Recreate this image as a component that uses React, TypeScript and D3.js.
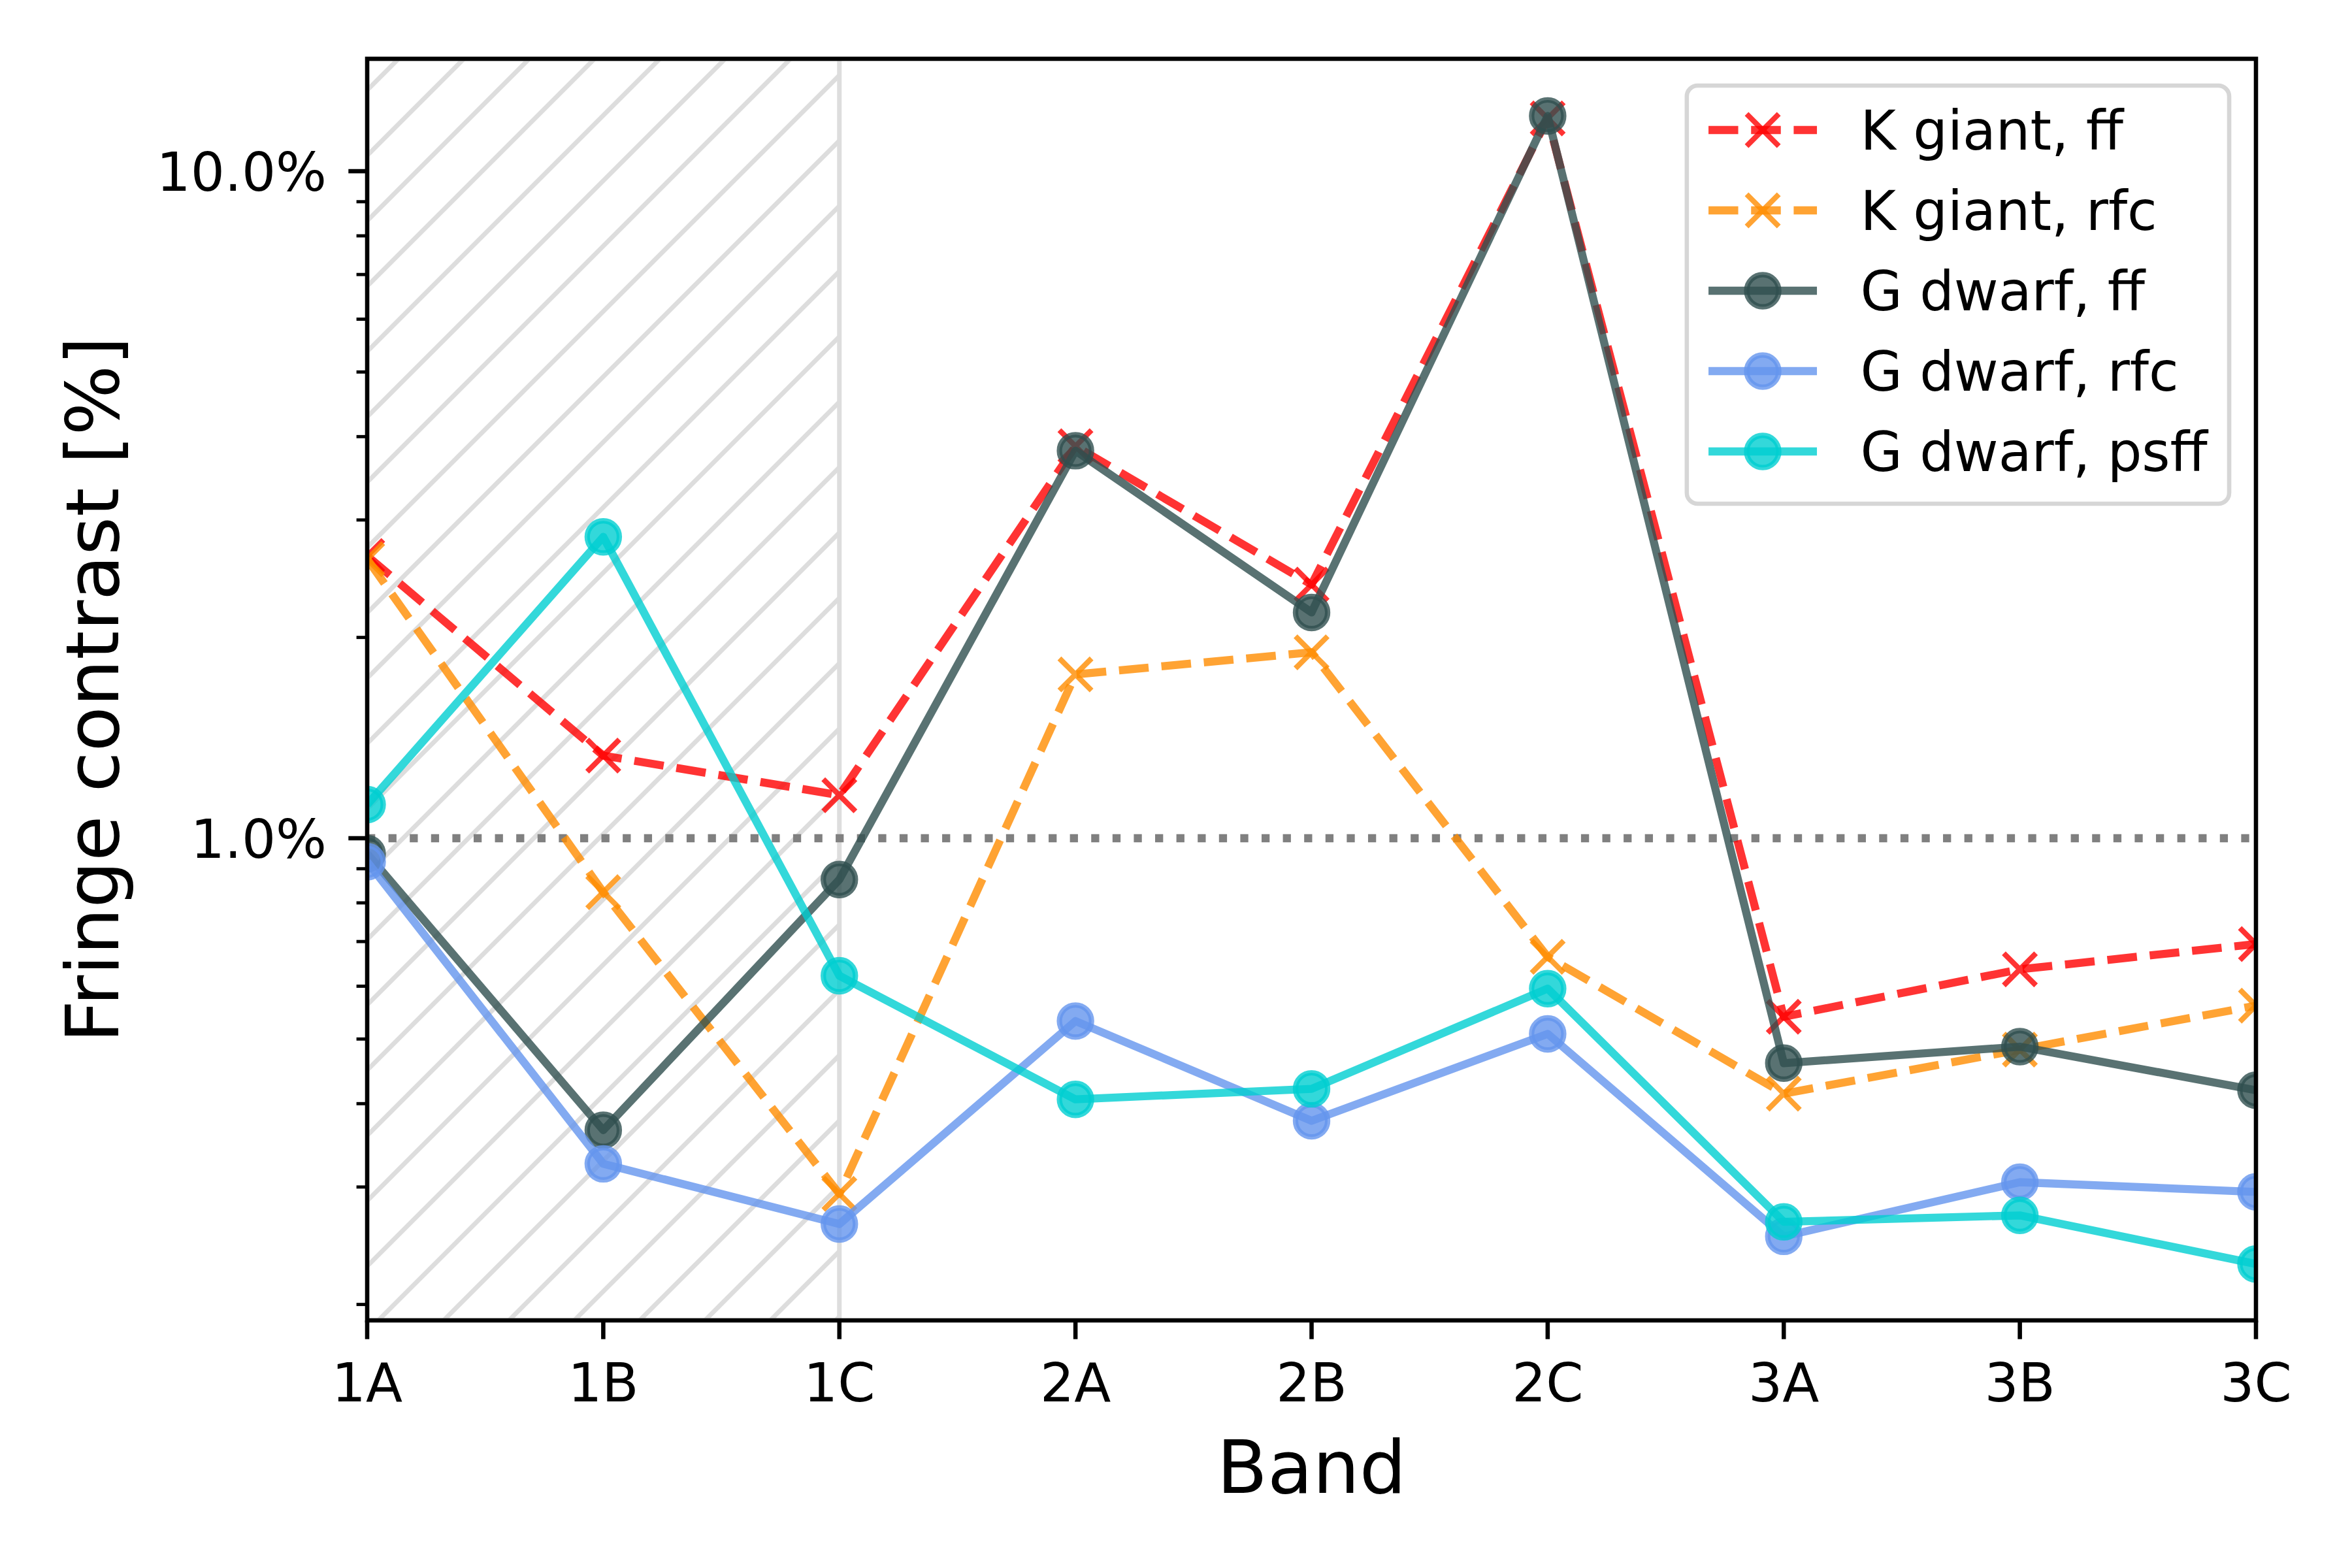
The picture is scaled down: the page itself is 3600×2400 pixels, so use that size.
import { useEffect, useRef } from 'react'
import * as d3 from 'd3'

// bands along the x axis
const BANDS = ['1A', '1B', '1C', '2A', '2B', '2C', '3A', '3B', '3C']

// fringe contrast in percent
const K_GIANT_FF = [2.65, 1.33, 1.16, 3.87, 2.4, 12.0, 0.54, 0.636, 0.694]
const K_GIANT_RFC = [2.62, 0.83, 0.293, 1.76, 1.9, 0.664, 0.414, 0.482, 0.561]
const G_DWARF_FF = [0.948, 0.365, 0.867, 3.81, 2.18, 12.1, 0.46, 0.487, 0.419]
const G_DWARF_RFC = [0.922, 0.325, 0.264, 0.532, 0.377, 0.509, 0.253, 0.305, 0.295]
const G_DWARF_PSFF = [1.123, 2.83, 0.622, 0.406, 0.421, 0.595, 0.266, 0.272, 0.23]

const SERIES_LABELS = ['K giant, ff', 'K giant, rfc', 'G dwarf, ff', 'G dwarf, rfc', 'G dwarf, psff']

const Y_DOMAIN = [0.1893, 14.74]
const Y_MAJOR = [1, 10]
const HATCH_BANDS = ['1A', '1C']
const THRESHOLD = 1

const W = 3600
const H = 2400
const PT = 8.2
const AX = { left: 562, right: 3453, top: 90, bottom: 2021 }
const FONT = 'DejaVu Sans'

const STYLES = [
  { color: '#ff0000', dashed: true, marker: 'x' },
  { color: '#ff8c00', dashed: true, marker: 'x' },
  { color: '#2f4f4f', dashed: false, marker: 'o' },
  { color: '#6495ed', dashed: false, marker: 'o' },
  { color: '#00ced1', dashed: false, marker: 'o' },
]

export default function App() {
  const svgRef = useRef<SVGSVGElement>(null)

  useEffect(() => {
    if (!svgRef.current) return
    const svg = d3.select(svgRef.current)
    svg.selectAll('*').remove()

    const seriesValues = [K_GIANT_FF, K_GIANT_RFC, G_DWARF_FF, G_DWARF_RFC, G_DWARF_PSFF]

    const x = d3.scalePoint<string>().domain(BANDS).range([AX.left, AX.right]).padding(0)
    const y = d3.scaleLog().domain(Y_DOMAIN).range([AX.bottom, AX.top])

    const lw = 1.5 * PT
    const ms = 6 * PT
    const mew = 1 * PT

    const defs = svg.append('defs')
    const pat = defs.append('pattern')
      .attr('id', 'hatch')
      .attr('patternUnits', 'userSpaceOnUse')
      .attr('width', 100)
      .attr('height', 100)
    pat.append('path')
      .attr('d', 'M-10,10L10,-10M0,100L100,0M90,110L110,90')
      .attr('stroke', '#dddddd')
      .attr('stroke-width', 7)

    defs.append('clipPath').attr('id', 'axclip')
      .append('rect')
      .attr('x', AX.left).attr('y', AX.top)
      .attr('width', AX.right - AX.left).attr('height', AX.bottom - AX.top)

    svg.append('rect').attr('width', W).attr('height', H).attr('fill', '#fff')

    const plot = svg.append('g').attr('clip-path', 'url(#axclip)')

    // hatched span over the first band group
    const x0 = x(HATCH_BANDS[0])!
    const x1 = x(HATCH_BANDS[1])!
    plot.append('rect')
      .attr('x', x0).attr('y', AX.top)
      .attr('width', x1 - x0).attr('height', AX.bottom - AX.top)
      .attr('fill', 'url(#hatch)')
      .attr('stroke', '#dddddd')
      .attr('stroke-width', 7)

    // 1% reference line
    plot.append('line')
      .attr('x1', AX.left).attr('x2', AX.right)
      .attr('y1', y(THRESHOLD)).attr('y2', y(THRESHOLD))
      .attr('stroke', '#808080')
      .attr('stroke-width', lw)
      .attr('stroke-dasharray', `${1 * lw} ${1.65 * lw}`)

    const line = d3.line<number>()
      .x((_, i) => x(BANDS[i])!)
      .y(d => y(d))

    const r = ms / 2
    const xPath = `M${-r},${-r}L${r},${r}M${-r},${r}L${r},${-r}`

    const drawMarker = (g: d3.Selection<SVGGElement, unknown, null, undefined>, kind: string, color: string, cx: number, cy: number) => {
      if (kind === 'x') {
        g.append('path')
          .attr('d', xPath)
          .attr('transform', `translate(${cx},${cy})`)
          .attr('fill', 'none')
          .attr('stroke', color)
          .attr('stroke-opacity', 0.8)
          .attr('stroke-width', mew)
      } else {
        g.append('circle')
          .attr('cx', cx).attr('cy', cy).attr('r', r)
          .attr('fill', color)
          .attr('fill-opacity', 0.8)
          .attr('stroke', color)
          .attr('stroke-opacity', 0.8)
          .attr('stroke-width', mew)
      }
    }

    seriesValues.forEach((vals, si) => {
      const st = STYLES[si]
      const g = plot.append('g')
      g.append('path')
        .attr('d', line(vals))
        .attr('fill', 'none')
        .attr('stroke', st.color)
        .attr('stroke-opacity', 0.8)
        .attr('stroke-width', lw)
        .attr('stroke-linejoin', 'round')
        .attr('stroke-dasharray', st.dashed ? `${3.7 * lw} ${1.6 * lw}` : null)
      vals.forEach((v, i) => drawMarker(g, st.marker, st.color, x(BANDS[i])!, y(v)))
    })

    // axes frame
    const axisW = 0.8 * PT
    svg.append('rect')
      .attr('x', AX.left).attr('y', AX.top)
      .attr('width', AX.right - AX.left).attr('height', AX.bottom - AX.top)
      .attr('fill', 'none')
      .attr('stroke', '#000')
      .attr('stroke-width', axisW)

    const majorLen = 3.5 * PT
    const minorLen = 2 * PT
    const tickFs = 82

    // x ticks
    BANDS.forEach(b => {
      svg.append('line')
        .attr('x1', x(b)).attr('x2', x(b))
        .attr('y1', AX.bottom).attr('y2', AX.bottom + majorLen)
        .attr('stroke', '#000').attr('stroke-width', axisW)
      svg.append('text')
        .attr('x', x(b)).attr('y', 2145)
        .attr('text-anchor', 'middle')
        .attr('font-family', FONT).attr('font-size', tickFs)
        .text(b)
    })

    // y ticks (log)
    const minor: number[] = []
    for (const dec of [0.1, 1, 10]) {
      for (let k = 2; k <= 9; k++) {
        const v = dec * k
        if (v >= Y_DOMAIN[0] && v <= Y_DOMAIN[1]) minor.push(v)
      }
    }
    minor.forEach(v => {
      svg.append('line')
        .attr('x1', AX.left - minorLen).attr('x2', AX.left)
        .attr('y1', y(v)).attr('y2', y(v))
        .attr('stroke', '#000').attr('stroke-width', 0.6 * PT)
    })
    const fmt = d3.format('.1f')
    Y_MAJOR.forEach(v => {
      svg.append('line')
        .attr('x1', AX.left - majorLen).attr('x2', AX.left)
        .attr('y1', y(v)).attr('y2', y(v))
        .attr('stroke', '#000').attr('stroke-width', axisW)
      svg.append('text')
        .attr('x', 500).attr('y', y(v) + 0.364 * tickFs)
        .attr('text-anchor', 'end')
        .attr('font-family', FONT).attr('font-size', tickFs)
        .text(`${fmt(v)}%`)
    })

    // axis labels
    const labelFs = 113
    svg.append('text')
      .attr('x', (AX.left + AX.right) / 2).attr('y', 2285)
      .attr('text-anchor', 'middle')
      .attr('font-family', FONT).attr('font-size', labelFs)
      .text('Band')
    svg.append('text')
      .attr('transform', `translate(181,${(AX.top + AX.bottom) / 2}) rotate(-90)`)
      .attr('text-anchor', 'middle')
      .attr('font-family', FONT).attr('font-size', labelFs)
      .text('Fringe contrast [%]')

    // legend
    const legFs = 83
    const leg = svg.append('g')
    const frame = leg.append('rect')
    const boxTop = AX.top + 41
    const rowStep = 123
    const firstRow = boxTop + 68
    const pad = 0.4 * legFs
    const handleLen = 2 * legFs
    const textPad = 0.8 * legFs
    const texts = SERIES_LABELS.map((lab, i) =>
      leg.append('text')
        .attr('y', firstRow + i * rowStep + 0.364 * legFs)
        .attr('font-family', FONT).attr('font-size', legFs)
        .text(lab)
    )
    const maxW = d3.max(texts, t => (t.node() as SVGTextElement).getComputedTextLength()) ?? 530
    const boxW = pad * 2 + handleLen + textPad + maxW
    const boxRight = AX.right - 41
    const boxLeft = boxRight - boxW
    const boxBottom = firstRow + (SERIES_LABELS.length - 1) * rowStep + 80
    frame
      .attr('x', boxLeft).attr('y', boxTop)
      .attr('width', boxW).attr('height', boxBottom - boxTop)
      .attr('rx', 0.2 * legFs)
      .attr('fill', '#fff').attr('fill-opacity', 0.8)
      .attr('stroke', '#cccccc').attr('stroke-opacity', 0.8)
      .attr('stroke-width', axisW)
    texts.forEach(t => t.attr('x', boxLeft + pad + handleLen + textPad))
    SERIES_LABELS.forEach((_, i) => {
      const st = STYLES[i]
      const cy = firstRow + i * rowStep
      const hx0 = boxLeft + pad
      const g = leg.append('g')
      g.append('line')
        .attr('x1', hx0).attr('x2', hx0 + handleLen)
        .attr('y1', cy).attr('y2', cy)
        .attr('stroke', st.color).attr('stroke-opacity', 0.8)
        .attr('stroke-width', lw)
        .attr('stroke-dasharray', st.dashed ? `${3.7 * lw} ${1.6 * lw}` : null)
      drawMarker(g, st.marker, st.color, hx0 + handleLen / 2, cy)
    })
  }, [])

  return (
    <svg
      ref={svgRef}
      width={W}
      height={H}
      style={{ position: 'absolute', left: 0, top: 0, display: 'block' }}
    />
  )
}
